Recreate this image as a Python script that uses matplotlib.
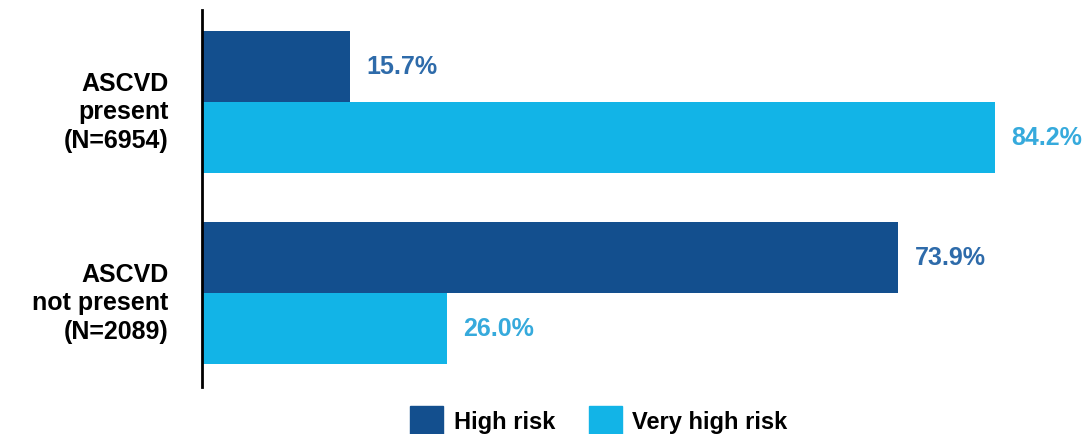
import numpy as np
import matplotlib.pyplot as plt
from matplotlib.patches import Patch

plt.rcParams['font.family'] = ['Liberation Sans', 'DejaVu Sans']
plt.rcParams['font.weight'] = 'bold'

groups = ['ASCVD\npresent\n(N=6954)', 'ASCVD\nnot present\n(N=2089)']
series = ['High risk', 'Very high risk']
high_risk = [15.7, 73.9]
very_high_risk = [84.2, 26.0]

bar_colors = ['#134f8e', '#12b4e7']
label_colors = ['#2e6baa', '#36aadc']

fig = plt.figure(figsize=(10.91, 4.34), dpi=100)
ax = fig.add_axes([202 / 1091, 1 - 387 / 434, 889 / 1091, 377 / 434])

y = np.arange(len(groups))
h = 0.372
for vals, offset, col, lcol, name in zip([high_risk, very_high_risk], [-h / 2, h / 2],
                                          bar_colors, label_colors, series):
    bars = ax.barh(y + offset, vals, height=h, color=col, label=name)
    ax.bar_label(bars, labels=[f'{v:.1f}%' for v in vals], padding=12,
                 color=lcol, fontsize=18, fontweight='bold')

ax.set_xlim(0, 94.4)
ax.set_ylim(1.492, -0.482)
ax.set_yticks(y + 0.03)
ax.set_yticklabels(groups, fontsize=18, fontweight='bold', linespacing=1.22)
ax.tick_params(axis='y', length=0, pad=24)
ax.set_xticks([])
for side in ['top', 'right', 'bottom']:
    ax.spines[side].set_visible(False)
ax.spines['left'].set_linewidth(2)

handles = [Patch(color=c, label=s) for c, s in zip(bar_colors, series)]
fig.legend(handles=handles, loc='center', bbox_to_anchor=(0.549, 0.030), ncol=2,
           frameon=False, fontsize=17, handlelength=1.4, handleheight=1.6,
           handletextpad=0.45, columnspacing=1.4)

fig.savefig('out.png', dpi=100)
